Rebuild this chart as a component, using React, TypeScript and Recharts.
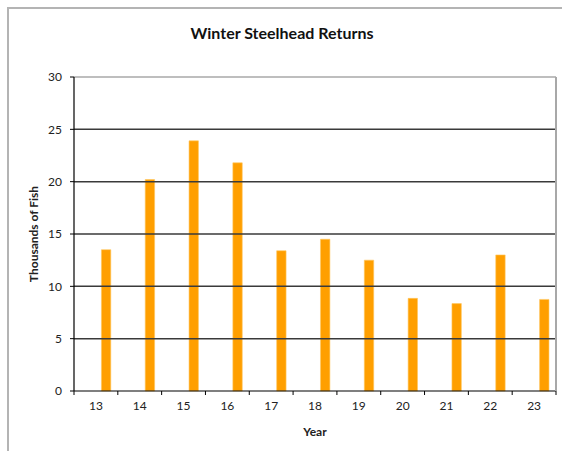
import React from 'react'
import {
  BarChart,
  Bar,
  XAxis,
  YAxis,
  ReferenceLine,
  Label
} from 'recharts'

const years = ['13', '14', '15', '16', '17', '18', '19', '20', '21', '22', '23']
const returns = [13.5, 20.2, 23.9, 21.8, 13.4, 14.5, 12.5, 8.85, 8.35, 13.0, 8.75]
const yTicks = [0, 5, 10, 15, 20, 25, 30]
const gridValues = [5, 10, 15, 20, 25]

const data = years.map((year, i) => ({ year, returns: returns[i] }))

const FONT = 'Lato, "Open Sans", sans-serif'

function YearTick(props: any) {
  const { x, y, payload, index, visibleTicksCount } = props
  const half = payload.offset || 0
  const isLast = index === visibleTicksCount - 1
  return (
    <g>
      <line x1={x - half} x2={x - half} y1={y - 8} y2={y - 4} stroke="#000" />
      {isLast && <line x1={x + half} x2={x + half} y1={y - 8} y2={y - 4} stroke="#000" />}
      <text x={x} y={y + 11} textAnchor="middle" fontSize={12} fontFamily={FONT} fill="#222">
        {payload.value}
      </text>
    </g>
  )
}

export default function App() {
  return (
    <div style={{ position: 'absolute', left: 0, top: 0, width: 562, height: 451, overflow: 'hidden', background: '#fff' }}>
      <div
        style={{
          position: 'absolute',
          left: 7,
          top: 7,
          width: 600,
          height: 500,
          border: '2px solid #b4b4b4'
        }}
      />
      <div
        style={{
          position: 'absolute',
          left: 0,
          top: 23,
          width: 564,
          textAlign: 'center',
          fontFamily: FONT,
          fontWeight: 'bold',
          fontSize: 16,
          color: '#111'
        }}
      >
        Winter Steelhead Returns
      </div>
      <div style={{ position: 'absolute', left: 0, top: 0 }}>
        <BarChart
          width={562}
          height={451}
          data={data}
          margin={{ top: 77, right: 6, bottom: 30, left: 14 }}
          barGap={10}
        >
          {gridValues.map(v => (
            <ReferenceLine key={v} y={v} stroke="#3a3a3a" strokeWidth={1.5} />
          ))}
          <ReferenceLine y={30} stroke="#a8a8a8" strokeWidth={1.5} />
          <XAxis
            dataKey="year"
            height={30}
            axisLine={{ stroke: '#000', strokeWidth: 1.2 }}
            tickLine={false}
            tick={<YearTick />}
            interval={0}
          >
            <Label
              content={({ viewBox }: any) => (
                <text
                  x={viewBox.x + viewBox.width / 2}
                  y={viewBox.y + 45}
                  textAnchor="middle"
                  fontSize={12}
                  fontWeight="bold"
                  fontFamily={FONT}
                  fill="#222"
                >
                  Year
                </text>
              )}
            />
          </XAxis>
          <YAxis
            width={60}
            domain={[0, 30]}
            ticks={yTicks}
            interval={0}
            axisLine={{ stroke: '#000', strokeWidth: 1.2 }}
            tickLine={{ stroke: '#000' }}
            tickSize={4}
            tickMargin={8}
            tick={{ fontSize: 12, fontFamily: FONT, fill: '#222' }}
          >
            <Label
              content={({ viewBox }: any) => {
                const cx = viewBox.x + 19
                const cy = viewBox.y + viewBox.height / 2
                return (
                  <text
                    x={cx}
                    y={cy}
                    transform={`rotate(-90 ${cx} ${cy})`}
                    textAnchor="middle"
                    dominantBaseline="central"
                    fontSize={12}
                    fontWeight="bold"
                    fontFamily={FONT}
                    fill="#222"
                  >
                    Thousands of Fish
                  </text>
                )
              }}
            />
          </YAxis>
          <Bar dataKey="blank" barSize={9.4} fill="none" isAnimationActive={false} />
          <Bar
            dataKey="returns"
            barSize={9.4}
            fill="#ff9f00"
            stroke="#ffc860"
            strokeWidth={0.6}
            isAnimationActive={false}
          />
        </BarChart>
      </div>
      <div
        style={{
          position: 'absolute',
          left: 555,
          top: 77,
          width: 0,
          height: 314,
          borderLeft: '2px solid #a8a8a8'
        }}
      />
    </div>
  )
}
